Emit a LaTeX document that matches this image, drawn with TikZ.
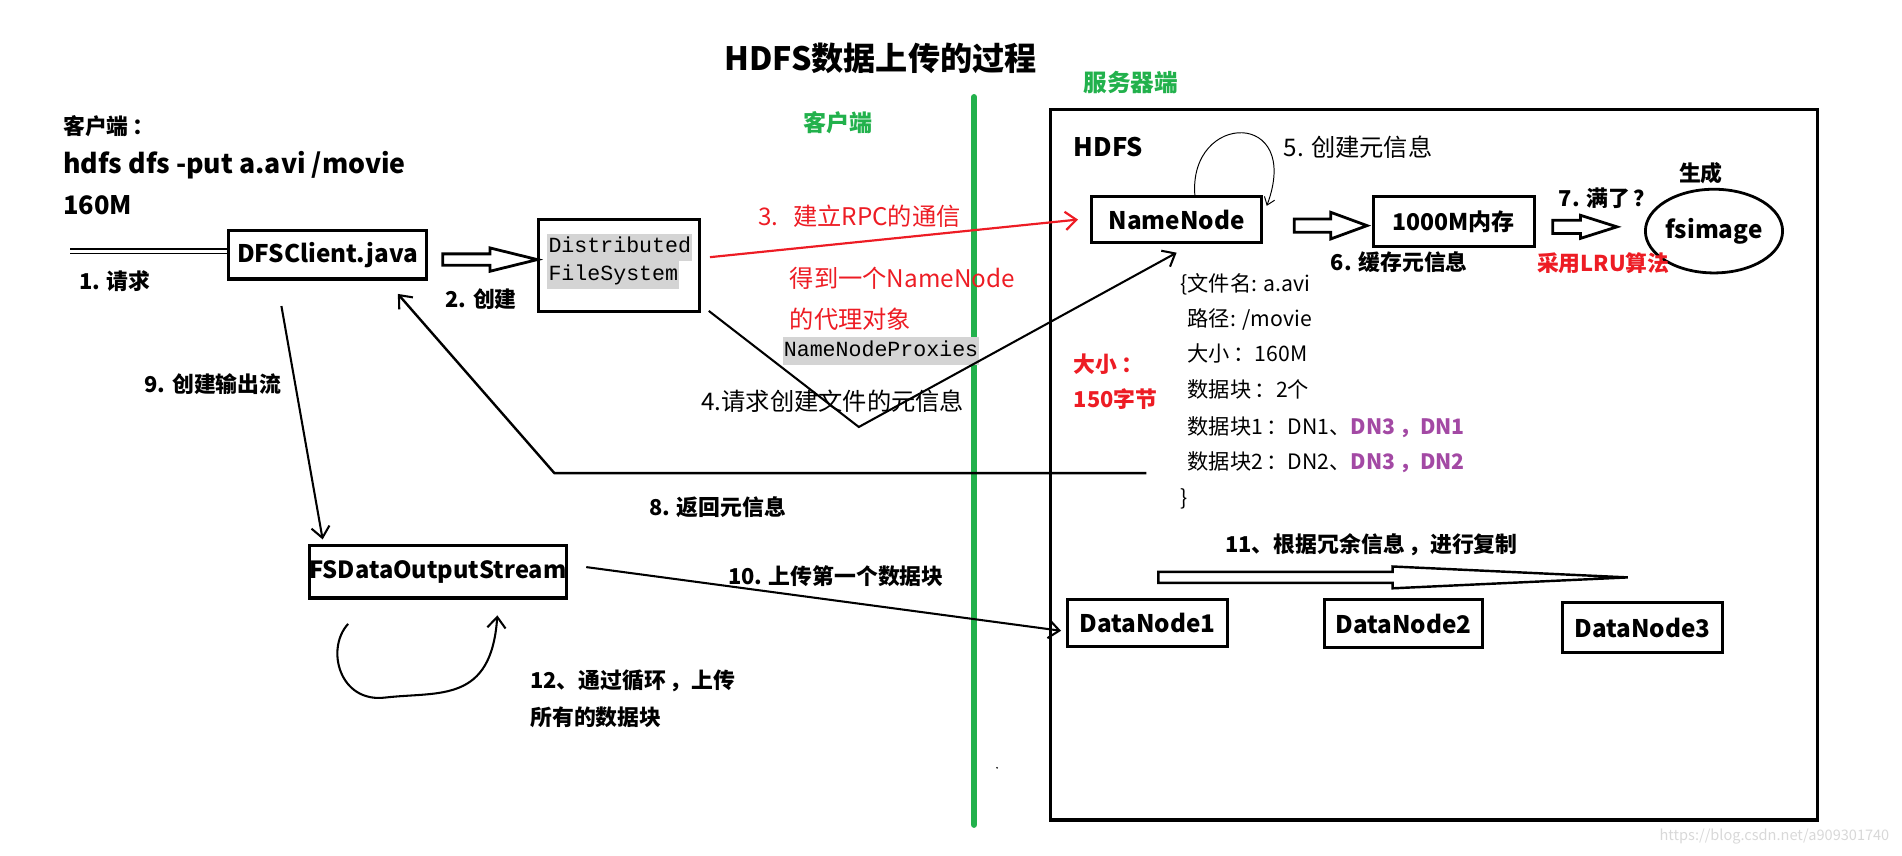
\documentclass[tikz,border=0pt]{standalone}
\usepackage{fontspec}
\setmainfont{Noto Sans CJK SC}
\setmonofont{Liberation Mono}
\usetikzlibrary{arrows.meta,shapes.geometric}
\definecolor{pred}{HTML}{ED1C24}
\definecolor{pgreen}{HTML}{22B14C}
\definecolor{ppurple}{HTML}{A349A4}
\definecolor{hlgray}{HTML}{D4D4D4}
\definecolor{wmgray}{HTML}{D8D8D8}
\newcommand{\fsz}[1]{\fontsize{#1}{#1}\selectfont}
\begin{document}
\begin{tikzpicture}[x=1pt,y=-1pt,
  box/.style={draw, line width=2.6pt, inner sep=0pt, font=\fsz{20}\bfseries},
  lbl/.style={inner sep=0pt, font=\fsz{18}\bfseries, anchor=west},
  rlbl/.style={inner sep=0pt, font=\fsz{20}, anchor=west, text=pred},
  meta/.style={inner sep=0pt, font=\fsz{17.5}, anchor=west},
  conn/.style={line width=1.7pt, -{Straight Barb[length=9pt,width=15pt,line width=1.7pt]}},
  hollow/.style={draw, line width=2.3pt, fill=white, line join=miter},
  hl/.style={fill=hlgray, inner xsep=1pt, inner ysep=1pt, text height=15pt, text depth=6pt, font=\fsz{17.8}\ttfamily, anchor=west},
]
\useasboundingbox (0,0) rectangle (1568,705);

% title and side labels
\node[lbl, font=\fsz{26.5}\bfseries] (title) at (597,48) {HDFS数据上传的过程};
\node[lbl, text=pgreen, font=\fsz{19.5}\bfseries] (srv) at (893,68) {服务器端};
\node[lbl, text=pgreen, font=\fsz{19}\bfseries] (cli) at (662,101) {客户端};

\node[lbl] (kh) at (52,104) {客户端\,：};
\node[lbl, font=\fsz{22}\bfseries] (cmd) at (52,136) {hdfs dfs -put a.avi /movie};
\node[lbl, font=\fsz{21}\bfseries] (fsize) at (52,169) {160M};

% divider
\coordinate (gtop) at (803,80);
\coordinate (gbot) at (803,680);
\draw[pgreen, line width=5pt, line cap=round] (gtop) -- (gbot);

% server box
\node[draw, line width=2.6pt, inner sep=0pt, minimum width=632pt, minimum height=586pt] (server) at (1182,383) {};

% client boxes
\node[box, minimum width=163pt, minimum height=40pt] (dfsc) at (270,210) {DFSClient.java};
\node[box, minimum width=133pt, minimum height=76pt] (dfs) at (510.5,219) {};
\node[hl] (dfs1) at (451,204) {Distributed};
\node[hl] (dfs2) at (451,227) {FileSystem};
\node[box, minimum width=212pt, minimum height=43pt, font=\fsz{19.5}\bfseries] (fsdos) at (361,471.5) {FSDataOutputStream};

% server nodes
\node[lbl, font=\fsz{21}\bfseries] (hdfs) at (885,121) {HDFS};
\node[box, minimum width=140pt, minimum height=38pt] (nn) at (970,181) {NameNode};
\node[box, minimum width=133pt, minimum height=41pt, font=\fsz{19}\bfseries] (mem) at (1198.5,182.5) {1000M内存};
\node[draw, ellipse, line width=2.3pt, inner sep=0pt, minimum width=94pt, minimum height=69pt, font=\fsz{20}\bfseries] (fsi) at (1413,190.5) {fsimage};
\node[lbl] (gen) at (1384,143) {生成};
\node[box, minimum width=132pt, minimum height=39pt] (dn1) at (946,513.5) {DataNode1};
\node[box, minimum width=130pt, minimum height=40pt] (dn2) at (1157,514) {DataNode2};
\node[box, minimum width=132pt, minimum height=41pt] (dn3) at (1354,517.5) {DataNode3};

% metadata block
\node[meta] (m1) at (973,234) {\{文件名: a.avi};
\node[meta] (m2) at (973,263) {\phantom{\{}路径: /movie};
\node[meta] (m3) at (973,292) {\phantom{\{}大小\,：160M};
\node[meta] (m4) at (973,322) {\phantom{\{}数据块\,：2个};
\node[meta] (m5) at (973,352) {\phantom{\{}数据块1\,：DN1、\textcolor{ppurple}{\bfseries DN3\,，DN1}};
\node[meta] (m6) at (973,381) {\phantom{\{}数据块2\,：DN2、\textcolor{ppurple}{\bfseries DN3\,，DN2}};
\node[meta] (m7) at (973,411) {\}};
\node[lbl, text=pred] (sz1) at (885,300) {大小\,：};
\node[lbl, text=pred] (sz2) at (885,329) {150字节};

% labels
\node[lbl] (l1) at (65,232) {1. 请求};
\node[lbl] (l2) at (367,247) {2. 创建};
\node[rlbl] (l3) at (625,178) {3.\hspace{0.6em}建立RPC的通信};
\node[rlbl] (l3b) at (651,229) {得到一个NameNode};
\node[rlbl] (l3c) at (651,263) {的代理对象};
\node[hl] (proxy) at (645,289) {NameNodeProxies};
\node[lbl, font=\fsz{20}] (l4) at (578,331) {4.请求创建文件的元信息};
\node[lbl, font=\fsz{20}] (l5) at (1058,121) {5. 创建元信息};
\node[lbl] (l6) at (1097,216) {6. 缓存元信息};
\node[lbl] (l7) at (1285,163) {7. 满了\,？};
\node[lbl, text=pred] (lru) at (1267,217) {采用LRU算法};
\node[lbl] (l8) at (535,418) {8. 返回元信息};
\node[lbl] (l9) at (119,317) {9. 创建输出流};
\node[lbl] (l10) at (600,475) {10. 上传第一个数据块};
\node[lbl] (l11) at (1010,449) {11、根据冗余信息\,，进行复制};
\node[lbl] (l12) at (437,561) {12、通过循环\,，上传};
\node[lbl] (l12b) at (437,591) {所有的数据块};
\node[inner sep=0pt, anchor=west, text=wmgray, font=\fsz{12}] (wm) at (1368,690) {https://blog.csdn.net/a909301740};
\fill (822,633) circle (0.8);

% 1. request (double line)
\coordinate (rq) at (58,207);
\draw[double=white, double distance=2.6pt, line width=1.1pt] (rq) -- ([yshift=3pt]dfsc.west);

% 2. create (hollow arrow)
\draw[hollow] (365,209.3) -- (404,209.3) -- (404,204.4) -- (443,214) -- (404,223.6) -- (404,218.7) -- (365,218.7) -- cycle;

% 3. RPC
\draw[pred, line width=1.8pt, -{Straight Barb[length=9pt,width=15pt,line width=1.8pt]}] ([xshift=7pt,yshift=7pt]dfs.east) -- ([xshift=-10pt]nn.west);

% 4. request metadata
\coordinate (c4) at (708,352);
\draw[conn] ([xshift=6pt,yshift=2pt]dfs.south east) -- (c4) -- ([yshift=-7pt]nn.south);

% 5. self loop
\draw[line width=0.8pt, -{Straight Barb[length=6pt,width=9pt,line width=0.8pt]}] ([xshift=15pt]nn.north) .. controls (980,92) and (1074,90) .. ([xshift=3pt,yshift=-9pt]nn.north east);

% 6. cache
\draw[hollow] (1067,180.5) -- (1097,180.5) -- (1097,175) -- (1127,186) -- (1097,197) -- (1097,191.5) -- (1067,191.5) -- cycle;

% 7. full
\draw[hollow] (1280,181.5) -- (1303,181.5) -- (1303,177.5) -- (1333,187) -- (1303,196.5) -- (1303,192.5) -- (1280,192.5) -- cycle;

% 8. return metadata
\coordinate (c8a) at (945,390);
\coordinate (c8b) at (457,390);
\draw[conn, line width=2pt] (c8a) -- (c8b) -- ([xshift=58pt,yshift=-11pt]dfsc.south);

% 9. create output stream
\draw[conn] ([xshift=-38pt,yshift=-21pt]dfsc.south) -- ([xshift=-95pt,yshift=4pt]fsdos.north);

% 10. upload first block
\draw[conn] ([xshift=15pt,yshift=4pt]fsdos.east) -- ([xshift=-4pt,yshift=-6.5pt]dn1.west);

% 11. replication arrow
\draw[hollow, line width=2pt] (955,471.5) -- (1148,471.5) -- (1148,467) -- (1342,476) -- (1148,485) -- (1148,480.5) -- (955,480.5) -- cycle;

% 12. loop
\coordinate (lpA) at ([xshift=-74pt,yshift=-20pt]fsdos.south);
\coordinate (lpB) at ([xshift=49pt,yshift=-13pt]fsdos.south);
\draw[conn] (lpA) .. controls (268,535) and (280,580) .. (318,575) .. controls (362,570) and (405,580) .. (lpB);
\end{tikzpicture}
\end{document}
